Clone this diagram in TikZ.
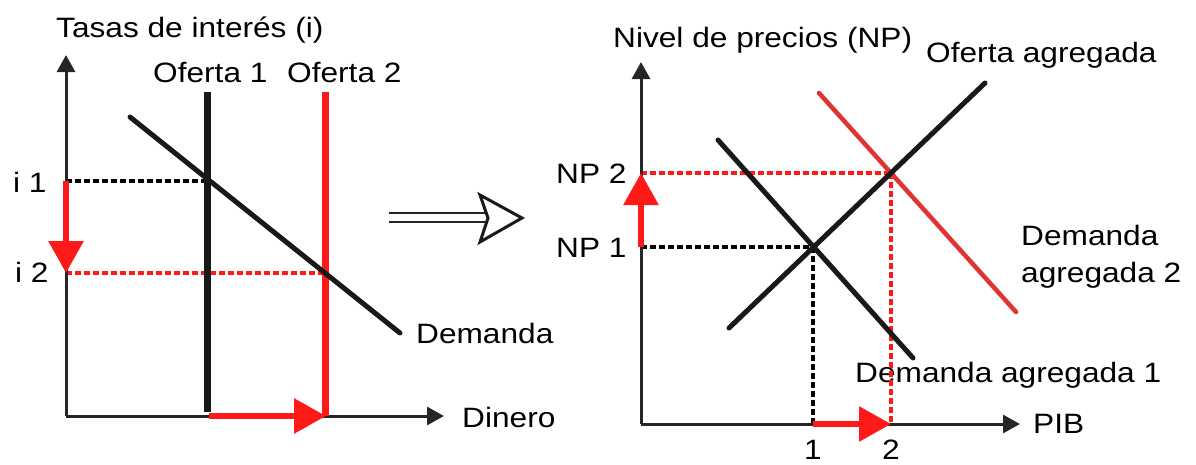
\documentclass[tikz,border=0pt]{standalone}
\usepackage{fontspec}
\setmainfont{Liberation Sans}[FakeStretch=1.13]
\usetikzlibrary{arrows.meta}
\definecolor{myred}{RGB}{255,26,26}
\definecolor{adred}{RGB}{222,52,52}
\tikzset{
  lbl/.style={inner sep=0pt, anchor=base west, font=\fontsize{28}{32}\selectfont},
  lblc/.style={inner sep=0pt, anchor=base, font=\fontsize{28}{32}\selectfont},
  axis/.style={line width=3pt, black!85, -{Triangle[length=17pt,width=18pt]}},
  curve/.style={line width=5pt, black!90, line cap=round},
  supply/.style={line width=7pt},
  dotb/.style={line width=4pt, black, dash pattern=on 6pt off 3pt},
  dotr/.style={line width=4pt, myred, dash pattern=on 6pt off 3pt},
  movearrow/.style={line width=6pt, myred, -{Triangle[length=32pt,width=34pt]}},
}
\begin{document}
\begin{tikzpicture}[x=1pt,y=-1pt]
\useasboundingbox (0,0) rectangle (1196,464);
% ---------------- left chart ----------------
\coordinate (LO) at (66,416);
\coordinate (LY) at (66,55);
\coordinate (LX) at (444,416);
\coordinate (S1t) at (207,92);
\coordinate (S1b) at (207,412);
\coordinate (S2t) at (325,92);
\coordinate (S2b) at (325,416);
\coordinate (D1) at (130,117);
\coordinate (D2) at (400,333);
\coordinate (E1) at (207,181);
\coordinate (E2) at (325,273);
\coordinate (Y1) at (66,181);
\coordinate (Y2) at (66,273);
\coordinate (Xa) at (209,416);
\coordinate (Xb) at (326,416);

\draw[dotb] (Y1) -- (E1);
\draw[dotr] (Y2) -- (E2);
\draw[axis] (LO) -- (LY);
\draw[axis] (LO) -- (LX);
\draw[supply, black!90] (S1t) -- (S1b);
\draw[supply, myred] (S2t) -- (S2b);
\draw[curve] (D1) -- (D2);
\draw[movearrow] (Y1) -- (Y2);
\draw[movearrow] (Xa) -- (Xb);

\node[lbl] (tl) at (56,37) {Tasas de interés (i)};
\node[lbl] (o1) at (153,82) {Oferta 1};
\node[lbl] (o2) at (287,82) {Oferta 2};
\node[lbl] (i1) at (13,192) {i 1};
\node[lbl] (i2) at (15,282) {i 2};
\node[lbl] (dm) at (416,343) {Demanda};
\node[lbl] (dn) at (462,427) {Dinero};

% ---------------- hollow implication arrow ----------------
\coordinate (Ha) at (389,213);
\coordinate (Hb) at (486,213);
\coordinate (Hc) at (389,222);
\coordinate (Hd) at (486,222);
\draw[line width=2.5pt, black!85] (Ha) -- (Hb);
\draw[line width=2.5pt, black!85] (Hc) -- (Hd);
\draw[line width=3pt, black!90, line join=miter, fill=white] (480,195) -- (522,218) -- (480,242) -- (488,218) -- cycle;

% ---------------- right chart ----------------
\coordinate (RO) at (641,424);
\coordinate (RY) at (641,62);
\coordinate (RX) at (1020,424);
\coordinate (ASa) at (729,328);
\coordinate (ASb) at (985,83);
\coordinate (AD1a) at (718,140);
\coordinate (AD1b) at (913,358);
\coordinate (AD2a) at (819,93);
\coordinate (AD2b) at (1016,312);
\coordinate (F1) at (813,247);
\coordinate (F2) at (891,173);
\coordinate (P1) at (641,247);
\coordinate (P2) at (641,173);
\coordinate (Q1) at (813,424);
\coordinate (Q2) at (891,424);

\node[lbl] (dg1) at (855,382) {Demanda agregada 1};
\draw[dotb] (P1) -- (F1);
\draw[dotb] (F1) -- (Q1);
\draw[dotr] (P2) -- (F2);
\draw[dotr] (F2) -- (Q2);
\draw[axis] (RO) -- (RY);
\draw[axis] (RO) -- (RX);
\draw[curve, adred, line width=4.5pt] (AD2a) -- (AD2b);
\draw[curve] (AD1a) -- (AD1b);
\draw[curve] (ASa) -- (ASb);
\draw[movearrow] (P1) -- (P2);
\draw[movearrow] (Q1) -- (Q2);

\node[lbl] (np) at (613,47) {Nivel de precios (NP)};
\node[lbl] (oa) at (926,62) {Oferta agregada};
\node[lbl] (np2) at (556,183) {NP 2};
\node[lbl] (np1) at (556,257) {NP 1};
\node[lbl] (dg2a) at (1021,245) {Demanda};
\node[lbl] (dg2b) at (1021,282) {agregada 2};
\node[lbl] (pib) at (1033,433) {PIB};
\node[lblc] (q1) at (813,459) {1};
\node[lblc] (q2) at (891,459) {2};
\end{tikzpicture}
\end{document}
